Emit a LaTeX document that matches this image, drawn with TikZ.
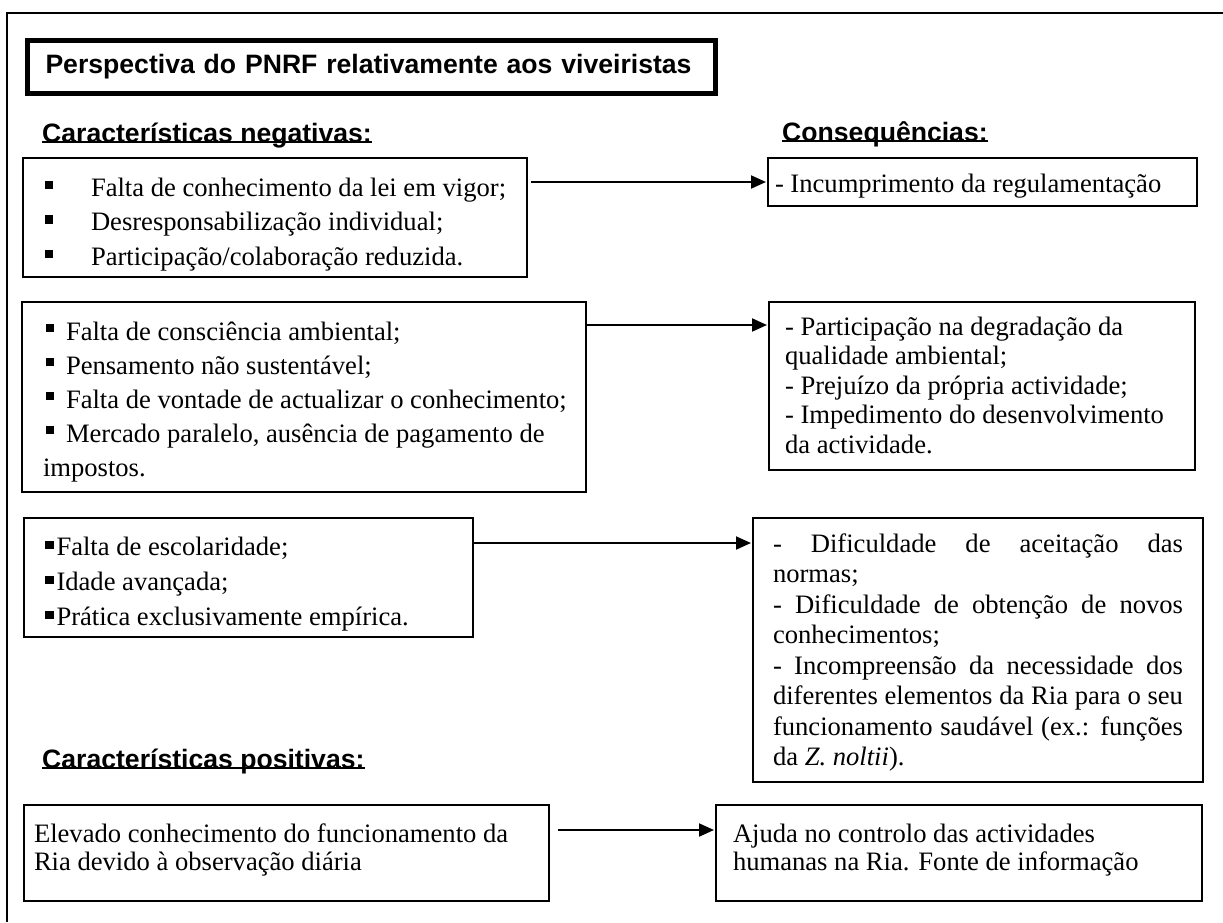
\documentclass[tikz,border=0pt]{standalone}
\usepackage{fontspec}
\setmainfont{Liberation Serif}
\setsansfont{Liberation Sans}
\usetikzlibrary{arrows.meta}
\newcommand{\marca}[1][7pt]{\rule[#1]{8.5pt}{8.5pt}}
% largura, altura, margem, 1a linha, entrelinha, texto
\newcommand{\quadro}[6]{\parbox[c][#2pt][t]{#1pt}{\leftskip=#3pt\relax
  \rightskip=0pt plus 1fil\relax\fontsize{26.6}{#5}\selectfont
  \rule{0pt}{#4pt}#6}}

\begin{document}
\begin{tikzpicture}
  [
    x=1pt, y=-1pt,
    caixa/.style =
      {draw, line width=2pt, anchor=north west, inner sep=0pt, outer sep=0pt},
    titulo/.style =
      {draw, line width=5pt, anchor=north west, minimum width=688pt,
       minimum height=53pt, text width=651pt, inner xsep=18.5pt,
       inner ysep=0pt, align=left,
       font=\fontsize{26.6}{31}\selectfont\sffamily\bfseries},
    cab/.style =
      {anchor=base west, inner sep=0pt,
       font=\fontsize{26.6}{31}\selectfont\sffamily\bfseries},
    sublinha/.style={line width=2pt, yshift=-5pt},
    seta/.style={line width=2pt, -{Triangle[length=15pt,width=13pt]},
      shorten >=2pt}
  ]
  \path [use as bounding box, fill=white] (0, 0) rectangle (1223, 922);
  \draw [line width=2pt] (7, 922) -- (7, 12.7) -- (1223, 12.7);

  \node [titulo] at (24.5, 37.5) (tit)
    {Perspectiva do PNRF relativamente aos viveiristas};

  \node [cab] at (42, 142) (neg)  {Características negativas:};
  \node [cab] at (782, 141) (cons) {Consequências:};
  \node [cab] at (42, 768) (pos)  {Características positivas:};
  \draw [sublinha] (neg.base west) -- (neg.base east);
  \draw [sublinha] (cons.base west) -- (cons.base east);
  \draw [sublinha] (pos.base west) -- (pos.base east);

  \node [caixa] at (23, 158) (c1) {\quadro{504}{119}{22}{38}{34.5}{%
    \marca\hspace{37.5pt}Falta de conhecimento da lei em vigor;\\
    \marca\hspace{37.5pt}Desresponsabilização individual;\\
    \marca\hspace{37.5pt}Participação/colaboração reduzida.}};
  \node [caixa] at (768, 158) (e1) {\quadro{429}{48}{7}{34}{31}{%
    - Incumprimento da regulamentação}};

  \node [caixa] at (22, 302) (c2) {\quadro{564}{190}{24}{38}{34}{%
    \marca[8pt]\hspace{11.5pt}Falta de consciência ambiental;\\
    \marca[8pt]\hspace{11.5pt}Pensamento não sustentável;\\
    \marca[8pt]\hspace{11.5pt}Falta de vontade de actualizar o conhecimento;\\
    \marca[8pt]\hspace{11.5pt}Mercado paralelo, ausência de pagamento de\\
    \hspace*{-3pt}impostos.}};
  \node [caixa] at (769, 302) (e2) {\quadro{426}{168}{16}{33}{29.5}{%
    - Participação na degradação da\\
    qualidade ambiental;\\
    - Prejuízo da própria actividade;\\
    - Impedimento do desenvolvimento\\
    da actividade.}};

  \node [caixa] at (24, 518) (c3) {\quadro{449}{119}{21}{37}{35}{%
    \marca[6pt]\hspace{3pt}Falta de escolaridade;\\
    \marca[6pt]\hspace{3pt}Idade avançada;\\
    \marca[6pt]\hspace{3pt}Prática exclusivamente empírica.}};
  \node [caixa] at (753, 518) (e3) {\quadro{450}{264}{20}{34}{30.5}{%
    \makebox[410pt][s]{- Dificuldade de aceitação das}\\
    normas;\\
    \makebox[410pt][s]{- Dificuldade de obtenção de novos}\\
    conhecimentos;\\
    \makebox[410pt][s]{- Incompreensão da necessidade dos}\\
    \makebox[410pt][s]{diferentes elementos da Ria para o seu}\\
    \makebox[410pt][s]{funcionamento saudável (ex.: funções}\\
    da \textit{Z. noltii}).}};

  \node [caixa] at (24, 805) (c4) {\quadro{525}{96}{10}{37}{28}{%
    Elevado conhecimento do funcionamento da\\
    Ria devido à observação diária}};
  \node [caixa] at (716, 805) (e4) {\quadro{486}{96}{17}{37}{28}{%
    Ajuda no controlo das actividades\\
    humanas na Ria. Fonte de informação}};

  \coordinate (s1) at ([xshift=4pt, yshift=-24pt]c1.north east);
  \coordinate (s2) at ([yshift=-23pt]c2.north east);
  \coordinate (s3) at ([yshift=-25pt]c3.north east);
  \coordinate (s4) at ([xshift=9pt, yshift=-25pt]c4.north east);

  \draw [seta] (s1) -- (s1 -| e1.west);
  \draw [seta] (s2) -- (s2 -| e2.west);
  \draw [seta] (s3) -- (s3 -| e3.west);
  \draw [seta] (s4) -- (s4 -| e4.west);

\end{tikzpicture}
\end{document}
